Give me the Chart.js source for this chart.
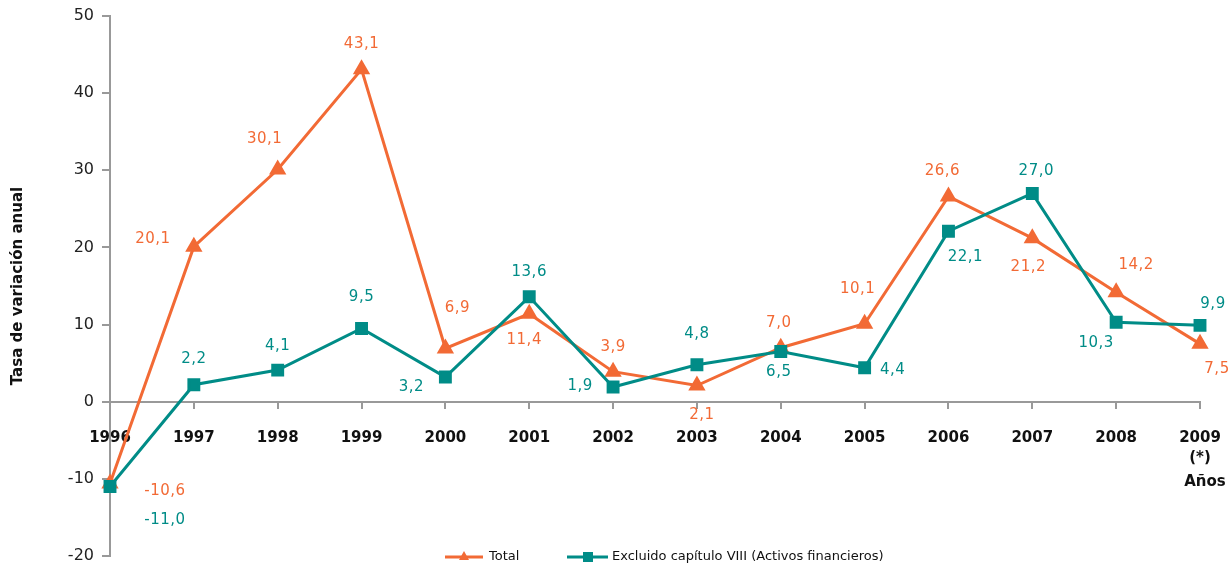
<!DOCTYPE html>
<html>
<head>
<meta charset="utf-8">
<script src="https://cdn.jsdelivr.net/npm/chart.js@4/dist/chart.umd.min.js"></script>
<style>
  html, body { margin: 0; padding: 0; background: #fff; }
  #wrap { width: 1231px; height: 566px; position: relative; }
</style>
</head>
<body>
<div id="wrap"><canvas id="chart"></canvas></div>
<script>
const years = ["1996", "1997", "1998", "1999", "2000", "2001", "2002", "2003", "2004", "2005", "2006", "2007", "2008", ["2009", "(*)"]];
const total = [-10.6, 20.1, 30.1, 43.1, 6.9, 11.4, 3.9, 2.1, 7.0, 10.1, 26.6, 21.2, 14.2, 7.5];
const excluido = [-11.0, 2.2, 4.1, 9.5, 3.2, 13.6, 1.9, 4.8, 6.5, 4.4, 22.1, 27.0, 10.3, 9.9];
const yTicks = [-20, -10, 0, 10, 20, 30, 40, 50];

// where each value label sits, relative to its point
const totalLabelOffsets = [[55, 8], [-41, -8], [-13, -30], [0, -25], [12, -40], [-5, 26], [0, -25], [5, 30],
  [-2, -25], [-7, -35], [-6, -25], [-4, 29], [20, -27], [17, 25]];
const excluidoLabelOffsets = [[55, 34], [0, -26], [0, -24], [0, -31], [-34, 10], [0, -25], [-33, -1], [0, -31],
  [-2, 21], [28, 2], [17, 26], [4, -22], [-20, 21], [13, -21]];

const ORANGE = "#f26a35";
const TEAL = "#008c87";
const FONT = "'DejaVu Sans', Verdana, sans-serif";

const fmt = v => v.toFixed(1).replace(".", ",");

const valueLabels = {
  id: "valueLabels",
  afterDatasetsDraw(chart) {
    const ctx = chart.ctx;
    const offsets = [totalLabelOffsets, excluidoLabelOffsets];
    ctx.save();
    ctx.font = "15px " + FONT;
    ctx.letterSpacing = "0.5px";
    ctx.textAlign = "center";
    ctx.textBaseline = "middle";
    chart.data.datasets.forEach((ds, i) => {
      const meta = chart.getDatasetMeta(i);
      ctx.fillStyle = ds.borderColor;
      meta.data.forEach((pt, j) => {
        const o = offsets[i][j];
        ctx.fillText(fmt(ds.data[j]), pt.x + o[0], pt.y + o[1]);
      });
    });
    ctx.restore();
  }
};

const extras = {
  id: "extras",
  afterDraw(chart) {
    const ctx = chart.ctx;
    const x = chart.scales.x;
    const y = chart.scales.y;
    ctx.save();
    // axis unit label
    ctx.font = "bold 15px " + FONT;
    ctx.fillStyle = "#111";
    ctx.textAlign = "center";
    ctx.textBaseline = "middle";
    ctx.fillText("Años", x.getPixelForValue(years.length - 1) + 5, y.getPixelForValue(0) + 80);

    // legend
    const ly = 557;
    ctx.lineWidth = 3;
    ctx.strokeStyle = ORANGE;
    ctx.beginPath(); ctx.moveTo(445, ly); ctx.lineTo(483, ly); ctx.stroke();
    ctx.fillStyle = ORANGE;
    ctx.beginPath(); ctx.moveTo(464, ly - 6); ctx.lineTo(469, ly + 3); ctx.lineTo(459, ly + 3); ctx.closePath(); ctx.fill();
    ctx.strokeStyle = TEAL;
    ctx.beginPath(); ctx.moveTo(567, ly); ctx.lineTo(608, ly); ctx.stroke();
    ctx.fillStyle = TEAL;
    ctx.fillRect(583, ly - 5, 10, 10);
    ctx.font = "13px " + FONT;
    ctx.fillStyle = "#111";
    ctx.textAlign = "left";
    ctx.fillText("Total", 489, ly);
    ctx.fillText("Excluido capítulo VIII (Activos financieros)", 612, ly);
    ctx.restore();
  }
};

new Chart(document.getElementById("chart"), {
  type: "line",
  data: {
    labels: years,
    datasets: [
      {
        label: "Total",
        data: total,
        borderColor: ORANGE,
        backgroundColor: ORANGE,
        borderWidth: 3,
        pointStyle: "triangle",
        pointRadius: 7,
        pointHoverRadius: 7,
        tension: 0,
        clip: false,
        order: 1
      },
      {
        label: "Excluido capítulo VIII (Activos financieros)",
        data: excluido,
        borderColor: TEAL,
        backgroundColor: TEAL,
        borderWidth: 3,
        pointStyle: "rect",
        pointRadius: 7,
        pointHoverRadius: 7,
        tension: 0,
        clip: false,
        order: 0
      }
    ]
  },
  options: {
    responsive: true,
    maintainAspectRatio: false,
    animation: false,
    layout: { padding: { top: 16, right: 31, bottom: 5, left: 0 } },
    plugins: {
      legend: { display: false },
      tooltip: { enabled: false }
    },
    scales: {
      x: {
        type: "category",
        offset: false,
        position: { y: 0 },
        afterFit(scale) {
          scale.paddingLeft = 0; scale.paddingRight = 0;
          scale.paddingTop = 0; scale.paddingBottom = 0;
        },
        grid: { display: true, drawOnChartArea: false, drawTicks: true, tickLength: 6, color: "#999", lineWidth: 2 },
        border: { display: true, color: "#999", width: 2 },
        ticks: {
          font: { family: FONT, size: 15, weight: "bold", lineHeight: 1.3 },
          color: "#111",
          padding: 21,
          maxRotation: 0,
          autoSkip: false
        }
      },
      y: {
        min: -20,
        max: 50,
        afterBuildTicks(scale) { scale.ticks = yTicks.map(v => ({ value: v })); },
        afterFit(scale) {
          scale.width = 110;
          scale.paddingTop = 0; scale.paddingBottom = 0;
        },
        grid: { display: true, drawOnChartArea: false, drawTicks: true, tickLength: 8, color: "#999", lineWidth: 2 },
        border: { display: true, color: "#999", width: 2 },
        ticks: {
          font: { family: FONT, size: 16 },
          color: "#222",
          padding: 8
        },
        title: {
          display: true,
          text: "Tasa de variación anual",
          font: { family: FONT, size: 15, weight: "bold" },
          color: "#111",
          padding: { top: 9, bottom: 0 }
        }
      }
    }
  },
  plugins: [valueLabels, extras]
});
</script>
</body>
</html>
